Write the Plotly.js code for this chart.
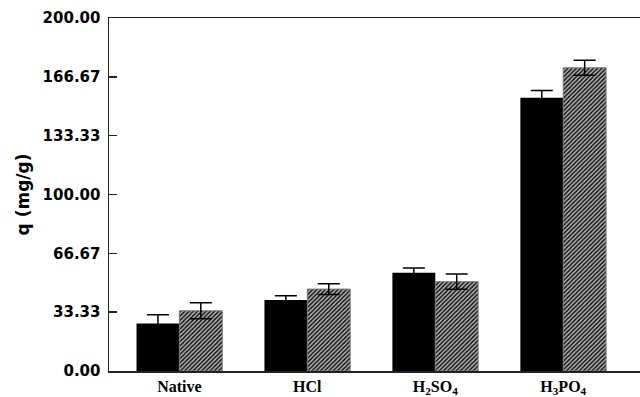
<!DOCTYPE html>
<html>
<head>
<meta charset="utf-8">
<script src="https://cdn.plot.ly/plotly-3.0.1.min.js"></script>
<style>html,body{margin:0;padding:0;background:#fff;}#chart{width:640px;height:397px;}</style>
</head>
<body>
<div id="chart"></div>
<script>
var categories = ['Native', 'HCl', 'H<sub>2</sub>SO<sub>4</sub>', 'H<sub>3</sub>PO<sub>4</sub>'];
var seriesA = [26.9, 40.2, 55.7, 154.8];
var errorsA = [4.9, 2.4, 2.6, 4.1];
var seriesB = [34.1, 46.4, 50.6, 171.8];
var errorsB = [4.5, 3.0, 4.3, 4.3];
var yTickVals = [0, 33.33, 66.67, 100, 133.33, 166.67, 200];
var yTickText = ['0.00', '33.33', '66.67', '100.00', '133.33', '166.67', '200.00'];

var xIdx = categories.map(function (c, i) { return i; });

var traceA = {
  type: 'bar', x: xIdx, y: seriesA, name: 'A',
  marker: { color: '#000', line: { color: '#000', width: 0 } },
  error_y: { type: 'data', array: errorsA, visible: true, color: '#000', thickness: 1.5, width: 11 }
};
var traceB = {
  type: 'bar', x: xIdx, y: seriesB, name: 'B',
  marker: {
    color: '#b0b0b0',
    line: { color: '#777', width: 1 },
    pattern: { shape: '/', fgcolor: '#111', bgcolor: '#b8b8b8', size: 3, solidity: 0.5 }
  },
  error_y: { type: 'data', array: errorsB, visible: true, color: '#000', thickness: 1.5, width: 11 }
};

var layout = {
  width: 640, height: 397,
  margin: { l: 109, r: 0, t: 18, b: 26 },
  paper_bgcolor: '#fff', plot_bgcolor: '#fff',
  showlegend: false,
  barmode: 'group', bargap: 0.33, bargroupgap: 0,
  xaxis: {
    range: [-0.55, 3.6], tickvals: xIdx, ticktext: categories,
    showline: true, mirror: true, linecolor: '#222', linewidth: 1.5,
    ticks: '', showgrid: false, zeroline: false, automargin: false,
    tickfont: { family: 'Liberation Serif, Times New Roman, serif', size: 16, color: '#000', weight: 'bold' }
  },
  yaxis: {
    range: [0, 200], tickvals: yTickVals, ticktext: yTickText,
    showline: true, linecolor: '#222', linewidth: 1.5,
    ticks: 'inside', ticklen: 8, tickwidth: 1.5, tickcolor: '#222',
    ticklabelstandoff: 4,
    showgrid: false, zeroline: false, automargin: false,
    tickfont: { family: 'DejaVu Sans, sans-serif', size: 15, color: '#000', weight: 'bold' },
    title: { text: 'q (mg/g)', standoff: 8, font: { family: 'DejaVu Sans, sans-serif', size: 17, color: '#000', weight: 'bold' } }
  }
};

Plotly.newPlot('chart', [traceA, traceB], layout, { displayModeBar: false, staticPlot: true });
</script>
</body>
</html>
